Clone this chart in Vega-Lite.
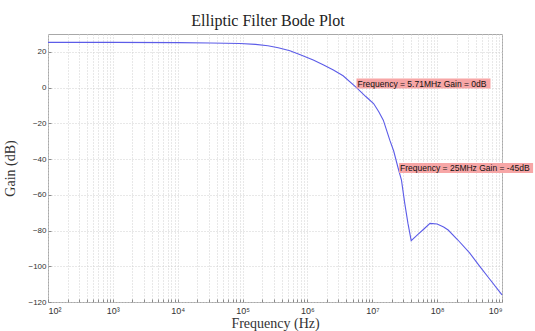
{
  "$schema": "https://vega.github.io/schema/vega-lite/v6.json",
  "width": 454,
  "height": 268,
  "autosize": "none",
  "padding": {"left": 48, "top": 34, "right": 33, "bottom": 29},
  "background": "white",
  "title": {
    "text": "Elliptic Filter Bode Plot",
    "font": "Liberation Serif",
    "fontSize": 16,
    "fontWeight": "normal",
    "color": "#222222",
    "offset": 5,
    "dx": -7
  },
  "config": {
    "view": {"stroke": "#a8a8a8", "strokeWidth": 1},
    "axis": {
      "grid": true,
      "gridColor": "#d0d0d0",
      "gridDash": [1, 2],
      "gridWidth": 1,
      "domain": false,
      "tickColor": "#8a8a8a",
      "tickSize": -3,
      "labelFont": "Liberation Sans",
      "labelFontSize": 8,
      "labelColor": "#333333",
      "titleFont": "Liberation Serif",
      "titleFontSize": 14,
      "titleFontWeight": "normal",
      "titleColor": "#333333"
    }
  },
  "datasets": {
    "curve": [
      {"freq": 100, "gain": 25.3},
      {"freq": 1000, "gain": 25.3},
      {"freq": 10000, "gain": 25.2},
      {"freq": 31623, "gain": 25.0},
      {"freq": 91201, "gain": 24.7},
      {"freq": 158489, "gain": 24.2},
      {"freq": 245471, "gain": 23.4},
      {"freq": 354813, "gain": 22.3},
      {"freq": 537032, "gain": 20.6},
      {"freq": 794328, "gain": 18.3},
      {"freq": 1230269, "gain": 15.4},
      {"freq": 1778279, "gain": 12.7},
      {"freq": 2511886, "gain": 9.8},
      {"freq": 3548134, "gain": 6.6},
      {"freq": 5710000, "gain": 0},
      {"freq": 7943282, "gain": -5.0},
      {"freq": 10471285, "gain": -8.9},
      {"freq": 12589254, "gain": -13.5},
      {"freq": 14791084, "gain": -18.2},
      {"freq": 18620871, "gain": -29.4},
      {"freq": 21379621, "gain": -35.5},
      {"freq": 25000000, "gain": -45},
      {"freq": 28183829, "gain": -51.8},
      {"freq": 31622777, "gain": -64.7},
      {"freq": 35481339, "gain": -76},
      {"freq": 39810717, "gain": -85.7},
      {"freq": 50118723, "gain": -82.3},
      {"freq": 63095734, "gain": -79},
      {"freq": 77624712, "gain": -76},
      {"freq": 100000000, "gain": -76.3},
      {"freq": 125892541, "gain": -78},
      {"freq": 147910839, "gain": -79.7},
      {"freq": 208929613, "gain": -85.3},
      {"freq": 316227766, "gain": -92.5},
      {"freq": 457088190, "gain": -100.2},
      {"freq": 630957344, "gain": -106.7},
      {"freq": 1000000000, "gain": -116}
    ],
    "notes": [
      {"id": 1, "freq": 5710000, "gain": 0, "label": "Frequency = 5.71MHz Gain = 0dB"},
      {"id": 2, "freq": 25000000, "gain": -45, "label": "Frequency = 25MHz Gain = -45dB"}
    ]
  },
  "encoding": {
    "x": {
      "field": "freq",
      "type": "quantitative",
      "scale": {"type": "log", "domain": [100, 1000000000], "nice": false},
      "axis": {
        "title": "Frequency (Hz)",
        "values": [100,200,300,400,500,600,700,800,900,1000,2000,3000,4000,5000,6000,7000,8000,9000,10000,20000,30000,40000,50000,60000,70000,80000,90000,100000,200000,300000,400000,500000,600000,700000,800000,900000,1000000,2000000,3000000,4000000,5000000,6000000,7000000,8000000,9000000,10000000,20000000,30000000,40000000,50000000,60000000,70000000,80000000,90000000,100000000,200000000,300000000,400000000,500000000,600000000,700000000,800000000,900000000,1000000000],
        "labelExpr": "abs(log(datum.value)/LN10 - round(log(datum.value)/LN10)) < 0.000001 ? '10' + ['⁰','¹','²','³','⁴','⁵','⁶','⁷','⁸','⁹'][round(log(datum.value)/LN10)] : ''",
        "labelPadding": 7,
        "labelFontSize": 9,
        "titlePadding": 1
      }
    },
    "y": {
      "field": "gain",
      "type": "quantitative",
      "scale": {"domain": [-120, 30], "nice": false},
      "axis": {
        "title": "Gain (dB)",
        "values": [-120, -100, -80, -60, -40, -20, 0, 20],
        "labelPadding": 5,
        "titlePadding": 10
      }
    }
  },
  "layer": [
    {
      "data": {"name": "curve"},
      "mark": {"type": "line", "color": "#5c5ce8", "strokeWidth": 1.1}
    },
    {
      "data": {"name": "notes"},
      "transform": [{"filter": "datum.id == 1"}],
      "layer": [
        {
          "mark": {"type": "point", "shape": "M0,-1H26.8V1H0Z", "size": 100, "filled": true, "fill": "#f7a6a6", "opacity": 1, "strokeWidth": 0, "yOffset": -4}
        },
        {
          "mark": {"type": "text", "align": "left", "baseline": "middle", "dx": 1, "dy": -4, "font": "Liberation Sans", "fontSize": 8.5, "color": "#111111"},
          "encoding": {"text": {"field": "label"}}
        }
      ]
    },
    {
      "data": {"name": "notes"},
      "transform": [{"filter": "datum.id == 2"}],
      "layer": [
        {
          "mark": {"type": "point", "shape": "M0,-1H26.8V1H0Z", "size": 100, "filled": true, "fill": "#f7a6a6", "opacity": 1, "strokeWidth": 0, "xOffset": 1}
        },
        {
          "mark": {"type": "text", "align": "left", "baseline": "middle", "dx": 2, "font": "Liberation Sans", "fontSize": 8.5, "color": "#111111"},
          "encoding": {"text": {"field": "label"}}
        }
      ]
    }
  ]
}
